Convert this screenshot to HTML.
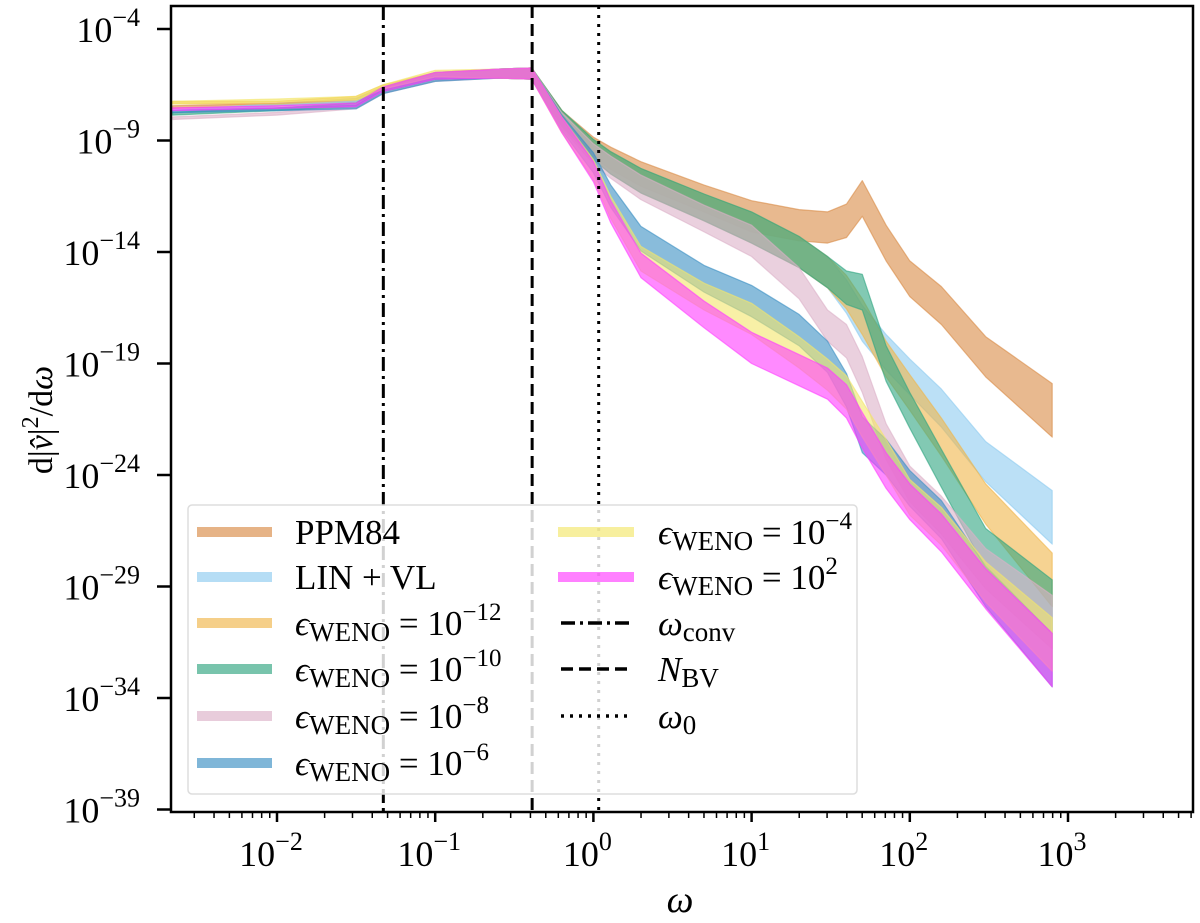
<!DOCTYPE html>
<html><head><meta charset="utf-8"><style>
html,body{margin:0;padding:0;background:#fff}
svg{display:block;font-family:"Liberation Serif",serif}
</style></head><body>
<svg id="chart" width="1200" height="923" viewBox="0 0 1200 923">
<defs><clipPath id="clip"><rect x="171" y="6" width="1022" height="806"/></clipPath></defs>
<g id="series" clip-path="url(#clip)"></g>
<g id="vlines" clip-path="url(#clip)"></g>
<g id="legend"></g>
<rect x="171" y="6" width="1022" height="806" fill="none" stroke="#000" stroke-width="2.5"/>
<g id="xaxis"></g>
<g id="yaxis"></g>
<text x="680" y="912" font-size="38" font-style="italic" text-anchor="middle">ω</text>
<text transform="translate(52,420) rotate(-90)" font-size="34" text-anchor="middle">d|<tspan font-style="italic">v̂</tspan>|<tspan dy="-14" font-size="24">2</tspan><tspan dy="14">/d</tspan><tspan font-style="italic">ω</tspan></text>
</svg>
<script>
const logOmega = [-2.66,-2,-1.5,-1.33,-1,-0.6,-0.39,-0.2,0,0.11,0.3,0.7,1,1.3,1.48,1.6,1.7,1.85,2,2.2,2.48,2.9];
const bandHalfWidth = [0.06,0.06,0.08,0.1,0.15,0.2,0.25,0.35,0.45,0.5,0.55,0.6,0.7,0.7,0.7,0.75,0.8,0.8,0.8,0.85,0.9,1.2];
const ppm84 = [-7.5,-7.4,-7.2,-6.7,-6.1,-6.0,-6.0,-8.0,-9.3,-9.8,-10.5,-11.6,-12.4,-12.8,-12.9,-12.6,-11.6,-13.6,-15.2,-16.4,-18.7,-21.1];
const linVL = [-7.7,-7.4,-7.2,-6.7,-6.1,-6.0,-6.0,-8.0,-9.4,-10.0,-10.8,-12.0,-12.9,-14.0,-14.9,-16.0,-17.2,-18.5,-19.6,-21.0,-23.4,-25.9];
const weno12 = [-7.3,-7.3,-7.1,-6.6,-6.1,-6.0,-6.0,-8.0,-9.4,-10.0,-10.8,-12.0,-12.9,-14.0,-14.9,-15.8,-16.9,-18.8,-20.3,-22.3,-25.3,-28.7];
const weno10 = [-7.8,-7.6,-7.4,-6.7,-6.1,-6.0,-6.0,-8.0,-9.4,-10.0,-10.8,-12.0,-12.9,-14.0,-14.9,-15.6,-15.8,-19.0,-21.1,-23.7,-27.3,-29.9];
const weno8 = [-8.0,-7.8,-7.5,-6.8,-6.2,-6.0,-6.0,-8.1,-9.6,-10.2,-11.1,-12.5,-13.5,-15.4,-17.3,-18.0,-19.5,-22.5,-24.4,-25.8,-28.2,-30.6];
const weno6 = [-7.7,-7.6,-7.5,-6.8,-6.2,-6.0,-6.0,-8.2,-10.0,-11.5,-13.4,-15.2,-16.2,-17.5,-18.7,-20.2,-22.2,-23.2,-24.6,-26.0,-29.0,-32.3];
const weno4 = [-7.3,-7.2,-7.1,-6.6,-6.0,-6.0,-6.0,-8.3,-10.3,-12.0,-14.3,-16.0,-17.0,-18.5,-19.5,-20.3,-21.5,-23.2,-25.0,-26.3,-28.8,-31.6];
const weno1e2 = [-7.6,-7.5,-7.4,-6.7,-6.1,-6.0,-6.0,-8.3,-10.4,-12.2,-14.6,-16.8,-18.3,-19.3,-19.9,-20.7,-22.0,-23.8,-25.2,-26.6,-29.1,-32.3];
const xTickExps = [-2,-1,0,1,2,3];
const yTickExps = [-4,-9,-14,-19,-24,-29,-34,-39];
const refLines = [0.047, 0.41, 1.08];

const NS="http://www.w3.org/2000/svg";
const xs = lw => 277 + (lw + 2) * 158.2;
const ys = ly => 29 + (-4 - ly) * 22.3;
function mk(tag, attrs, parent){const e=document.createElementNS(NS,tag);for(const k in attrs)e.setAttribute(k,attrs[k]);parent.appendChild(e);return e;}

const seriesDefs = [
 ['series-ppm84', ppm84, '#d98a45'],
 ['series-lin-vl', linVL, '#8ecbf0'],
 ['series-weno-1e-12', weno12, '#f0b54a'],
 ['series-weno-1e-10', weno10, '#2fa580'],
 ['series-weno-1e-8', weno8, '#dcb0c8'],
 ['series-weno-1e-6', weno6, '#3a8fc3'],
 ['series-weno-1e-4', weno4, '#f3e66a'],
 ['series-weno-1e2', weno1e2, '#ff3cff']
];
const sg = document.getElementById('series');
seriesDefs.forEach(([name, vals, col]) => {
  const up = logOmega.map((lw,i)=>xs(lw).toFixed(1)+','+ys(vals[i]+bandHalfWidth[i]).toFixed(1));
  const lo = logOmega.map((lw,i)=>xs(lw).toFixed(1)+','+ys(vals[i]-bandHalfWidth[i]).toFixed(1)).reverse();
  const p = mk('polygon',{points:up.concat(lo).join(' '),fill:col,'fill-opacity':0.6,stroke:col,'stroke-opacity':0.6,'stroke-width':1.2,'stroke-linejoin':'round'},sg);
  
  
});

const vg = document.getElementById('vlines');
const dashes = ['14,5,3,5','12,6','3,6'];
const vnames = ['omega-conv-line','n-bv-line','omega-0-line'];
refLines.forEach((w,i)=>{
  const x = xs(Math.log10(w));
  const l = mk('line',{x1:x,x2:x,y1:6,y2:812,stroke:'#000','stroke-width':3,'stroke-dasharray':dashes[i]},vg);
  
  
});

const lg = document.getElementById('legend');
const box = mk('rect',{x:188,y:505,width:669,height:289,rx:4,fill:'#fff','fill-opacity':0.82,stroke:'#ddd','stroke-width':1.5},lg);


const rows=[532,577,623,669,716,763];
const col1 = [['PPM84',null],['LIN + VL',null],['eps','−12'],['eps','−10'],['eps','−8'],['eps','−6']];
function addText(x,y,lab,exp,parent){
  const t = mk('text',{x:x,y:y+12,'font-size':35},parent);
  if(lab!=='eps'){t.textContent=lab;return t;}
  t.innerHTML = '<tspan font-style="italic">ϵ</tspan><tspan font-size="27" dy="6">WENO</tspan><tspan dy="-6"> = 10</tspan><tspan font-size="25" dy="-15">'+exp+'</tspan>';
  return t;
}
col1.forEach((c,i)=>{
  const h = mk('rect',{x:197,y:rows[i]-5,width:75,height:10,fill:seriesDefs[i][2],'fill-opacity':0.65},lg);
  
  
  const t = addText(295,rows[i],c[0],c[1],lg);
  
  
});
[[6,'−4'],[7,'2']].forEach((c,i)=>{
  const h = mk('rect',{x:558,y:rows[i]-5,width:76,height:10,fill:seriesDefs[c[0]][2],'fill-opacity':0.65},lg);
  
  
  const t = addText(658,rows[i],'eps',c[1],lg);
  
  
});
const lineLabels=[['ω','conv'],['N','BV'],['ω','0']];
lineLabels.forEach((c,i)=>{
  const y=rows[i+2];
  const l = mk('line',{x1:561,x2:630,y1:y,y2:y,stroke:'#000','stroke-width':3.5,'stroke-dasharray':dashes[i]},lg);
  
  
  const t = mk('text',{x:658,y:y+12,'font-size':35},lg);
  t.innerHTML='<tspan font-style="italic">'+c[0]+'</tspan><tspan font-size="27" dy="6">'+c[1]+'</tspan>';
  
  
});

const xg = document.getElementById('xaxis');
for(let d=-3; d<=3; d++){
  for(let m=1;m<=9;m++){
    const lw = d + Math.log10(m);
    const x = xs(lw);
    if(x<172||x>1192) continue;
    const tk = mk('line',{x1:x,x2:x,y1:812,y2:812+(m===1?10:6),stroke:'#000','stroke-width':m===1?2.5:1.5},xg);
    
    
  }
}
xTickExps.forEach(e=>{
  const t = mk('text',{x:xs(e)-6,y:866,'font-size':36,'text-anchor':'middle'},xg);
  t.innerHTML='10<tspan font-size="26" dy="-16">'+(e<0?'−'+(-e):e)+'</tspan>';
  
  
});
const yg = document.getElementById('yaxis');
yTickExps.forEach(e=>{
  const y = ys(e);
  const tk = mk('line',{x1:157,x2:171,y1:y,y2:y,stroke:'#000','stroke-width':2.5},yg);
  
  
  const t = mk('text',{x:140,y:y+13,'font-size':36,'text-anchor':'end'},yg);
  t.innerHTML='10<tspan font-size="26" dy="-16">−'+(-e)+'</tspan>';
  
  
});
</script>
</body></html>
